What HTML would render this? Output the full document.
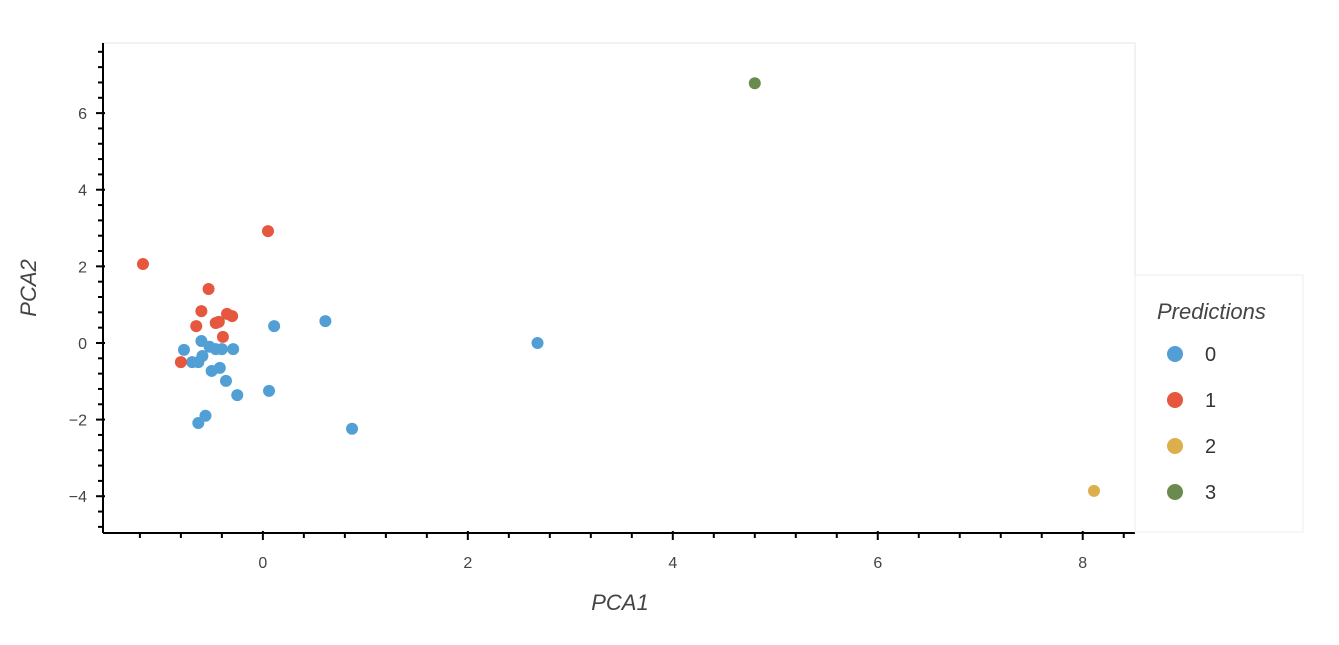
<!DOCTYPE html>
<html><head><meta charset="utf-8">
<style>
body{margin:0;background:#fff;font-family:"Liberation Sans",sans-serif;}
svg text{font-family:"Liberation Sans",sans-serif;}
</style></head>
<body>
<svg width="1339" height="640">
<rect x="103" y="43" width="1032" height="490" fill="none" stroke="#e5e5e5"/>
<g id="marks"></g>
<g id="axes"></g>
<text x="620" y="610" font-size="22" font-style="italic" fill="#444" text-anchor="middle">PCA1</text>
<text transform="translate(36,288) rotate(-90)" font-size="22" font-style="italic" fill="#444" text-anchor="middle">PCA2</text>
<g>
<rect x="1135" y="275" width="168" height="257" fill="#fff" stroke="#ececec"/>
<text x="1157" y="319" font-size="22" font-style="italic" fill="#444">Predictions</text>
<g id="legend-items"></g>
</g>
</svg>
<script>
const classes=["0","1","2","3"];
const colors=["#529fd6","#e5573f","#dcaf4c","#6a8b4f"];
const blueX=[-0.77,-0.60,-0.52,-0.46,-0.40,-0.29,-0.59,-0.63,-0.69,-0.50,-0.42,-0.36,-0.25,0.06,0.11,0.61,0.87,-0.56,-0.63,2.68];
const blueY=[-0.18,0.05,-0.10,-0.16,-0.16,-0.16,-0.34,-0.50,-0.50,-0.73,-0.65,-0.99,-1.36,-1.25,0.44,0.57,-2.24,-1.90,-2.09,0.0];
const redX=[-1.17,-0.53,-0.60,-0.65,-0.46,-0.43,-0.35,-0.30,-0.39,-0.80,0.05];
const redY=[2.06,1.41,0.83,0.44,0.52,0.55,0.76,0.70,0.16,-0.50,2.92];
const yellowX=[8.11],yellowY=[-3.86];
const greenX=[4.80],greenY=[6.78];
const xTicks=[0,2,4,6,8];
const yTicks=[-4,-2,0,2,4,6];
const NS="http://www.w3.org/2000/svg";
const L=103,R=1135,T=43,B=533,xMin=-1.56,xMax=8.51,yMin=-4.96,yMax=7.83;
const sx=v=>L+(v-xMin)/(xMax-xMin)*(R-L);
const sy=v=>B-(v-yMin)/(yMax-yMin)*(B-T);
function mk(tag,attrs,parent){const e=document.createElementNS(NS,tag);for(const k in attrs)e.setAttribute(k,attrs[k]);parent.appendChild(e);return e;}
const marks=document.getElementById('marks');
const series=[[blueX,blueY,0],[redX,redY,1],[yellowX,yellowY,2],[greenX,greenY,3]];
series.forEach(([xs,ys,c])=>{xs.forEach((x,i)=>{
 const e=mk('circle',{cx:sx(x),cy:sy(ys[i]),r:6,fill:colors[c]},marks);
 
 
});});
const ax=document.getElementById('axes');
const xa=mk('line',{x1:L,x2:R,y1:B,y2:B,stroke:'#000','stroke-width':2},ax);


const ya=mk('line',{x1:L,x2:L,y1:T,y2:B,stroke:'#000','stroke-width':2},ax);


for(let v=-1.2;v<=xMax;v+=0.4){const vv=Math.round(v*10)/10;const maj=Math.abs(vv/2-Math.round(vv/2))<1e-6;
 mk('line',{x1:sx(vv),x2:sx(vv),y1:maj?B-2:B,y2:maj?B+7:B+5,stroke:'#000','stroke-width':2},ax);}
for(let v=-4.8;v<=yMax;v+=0.4){const vv=Math.round(v*10)/10;const maj=Math.abs(vv/2-Math.round(vv/2))<1e-6;
 mk('line',{y1:sy(vv),y2:sy(vv),x1:maj?L+2:L,x2:maj?L-7:L-5,stroke:'#000','stroke-width':2},ax);}
xTicks.forEach(t=>{const e=mk('text',{x:sx(t),y:B+35,'font-size':16,fill:'#444','text-anchor':'middle'},ax);e.textContent=String(t);
 
 });
yTicks.forEach(t=>{const e=mk('text',{x:L-16,y:sy(t)+6,'font-size':16,fill:'#444','text-anchor':'end'},ax);e.textContent=t<0?'\u2212'+(-t):String(t);
 
 });
const li=document.getElementById('legend-items');
classes.forEach((c,i)=>{const y=354+i*46;
 const g=mk('g',{},li);
 
 
 mk('circle',{cx:1175,cy:y,r:8,fill:colors[i]},g);
 const t=mk('text',{x:1205,y:y+7,'font-size':20,fill:'#333'},g);t.textContent=c;});
</script>
</body></html>
